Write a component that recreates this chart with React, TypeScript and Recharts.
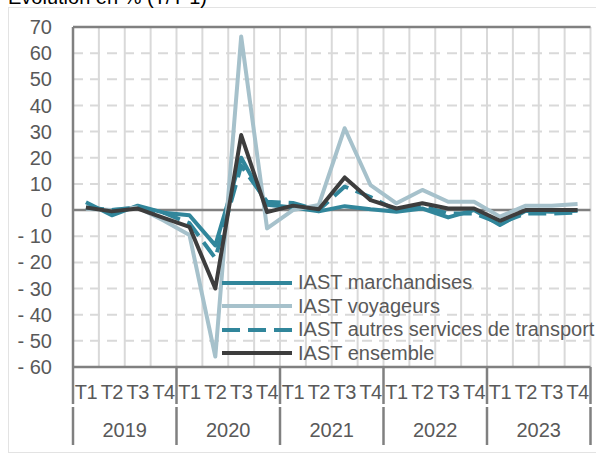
import React from 'react';
import { LineChart, Line, XAxis, YAxis, CartesianGrid, ReferenceLine, Legend } from 'recharts';

const quarterLabels = ['T1', 'T2', 'T3', 'T4'];
const years = ['2019', '2020', '2021', '2022', '2023'];
const yTicks = [-60, -50, -40, -30, -20, -10, 0, 10, 20, 30, 40, 50, 60, 70];
const Y_MIN = -60;
const Y_MAX = 70;

const marchandises = [3, -2, 1.7, -1, -2, -13.5, 20, 2, 1, -0.5, 1.5, 0.3, -0.6, 0.6, -2.8, 0, -5.7, -0.3, -0.6, -0.3];
const voyageurs = [0.5, 0, 1, -4, -9.5, -56, 66.4, -7, 0, 2, 31.3, 9.5, 2.6, 7.7, 3.2, 3.2, -2.5, 1.7, 1.7, 2.3];
const autres = [1, 0, 1, -1, -5, -18.4, 17, 3.2, 2.7, 0, 9, 5, -0.2, 1.5, -1.3, -1.3, -5, -1.3, -1.3, -1];
const ensemble = [1, -0.5, 0.6, -3, -6.4, -30, 28.7, -0.8, 1.7, 0.3, 12.5, 3.8, 0.6, 2.6, 0.6, 0.6, -4.1, 0, 0, 0];

const seriesNames = ['IAST marchandises', 'IAST voyageurs', 'IAST autres services de transport', 'IAST ensemble'];

const TEAL = '#31869b';
const LIGHT = '#a6c1cb';
const DARK = '#3d3d3d';
const TEXT = '#595959';
const AXIS = '#808080';
const GRID = '#d9d9d9';
const FONT = '"Liberation Sans", Arial, sans-serif';

const categories = years.flatMap((y) => quarterLabels.map((q) => `${y}-${q}`));
const data = categories.map((c, i) => ({
  cat: c,
  m: marchandises[i],
  v: voyageurs[i],
  a: autres[i],
  e: ensemble[i],
}));

const legendItems = [
  { name: seriesNames[0], color: TEAL, dash: undefined as string | undefined },
  { name: seriesNames[1], color: LIGHT, dash: undefined },
  { name: seriesNames[2], color: TEAL, dash: '18 8' },
  { name: seriesNames[3], color: DARK, dash: undefined },
];

const CHART_W = 596;
const CHART_H = 453;
const MARGIN = { top: 27, right: 5.5, left: 1, bottom: 6 };
const YAXIS_W = 72;
const PLOT_W = CHART_W - MARGIN.left - MARGIN.right - YAXIS_W;
const STEP = PLOT_W / categories.length;

const QuarterTick = (props: any) => {
  const { x, y, payload, index } = props;
  const [year, q] = String(payload.value).split('-');
  const sep = (sx: number) => (
    <g>
      <line x1={sx} x2={sx} y1={y} y2={y + 37} stroke={AXIS} strokeWidth={2.5} />
      <line x1={sx} x2={sx} y1={y + 40} y2={y + 78} stroke={AXIS} strokeWidth={2.5} />
    </g>
  );
  return (
    <g>
      <text x={x} y={y + 32} textAnchor="middle" fill={TEXT} fontSize={20} fontFamily={FONT} letterSpacing={-0.5}>
        {q}
      </text>
      {q === 'T1' && sep(x - STEP / 2)}
      {q === 'T1' && (
        <text x={x + 1.5 * STEP} y={y + 70} textAnchor="middle" fill={TEXT} fontSize={20} fontFamily={FONT}>
          {year}
        </text>
      )}
      {index === categories.length - 1 && sep(x + STEP / 2)}
    </g>
  );
};

const fmtY = (v: number) => (v < 0 ? `- ${-v}` : `${v}`);

const LegendContent = () => (
  <div style={{ fontFamily: FONT, fontSize: 20, color: TEXT }}>
    {legendItems.map((it) => (
      <div key={it.name} style={{ display: 'flex', alignItems: 'center', height: 23.5, whiteSpace: 'nowrap' }}>
        <svg width={77} height={10} style={{ display: 'block' }}>
          <line x1={1} x2={71} y1={5} y2={5} stroke={it.color} strokeWidth={4} strokeDasharray={it.dash} />
        </svg>
        <span>{it.name}</span>
      </div>
    ))}
  </div>
);

export default function App() {
  return (
    <div style={{ position: 'absolute', left: 0, top: 0, width: CHART_W, height: CHART_H, overflow: 'hidden', background: '#fff' }}>
      <div style={{ position: 'absolute', left: 8, top: 7, width: 620, height: 444, border: '1px solid #e3e3e3' }} />
      <svg width={CHART_W} height={30} style={{ position: 'absolute', left: 0, top: 0 }}>
        <text x={8} y={4} fill="#000" fontSize={20} fontFamily={FONT}>Évolution en % (T/T-1)</text>
      </svg>
      <div style={{ position: 'absolute', left: 0, top: 0 }}>
        <LineChart width={CHART_W} height={CHART_H} data={data} margin={MARGIN}>
          <CartesianGrid
            horizontal={false}
            stroke={GRID}
            strokeWidth={2}
            verticalCoordinatesGenerator={({ offset }: any) =>
              Array.from({ length: categories.length + 1 }, (_, i) => offset.left + (i * offset.width) / categories.length)
            }
          />
          <CartesianGrid vertical={false} stroke={GRID} strokeWidth={2} strokeDasharray="10 7" />
          <CartesianGrid
            vertical={false}
            stroke={AXIS}
            strokeWidth={2.5}
            horizontalCoordinatesGenerator={({ offset }: any) => [
              offset.top + (offset.height * Y_MAX) / (Y_MAX - Y_MIN),
            ]}
          />
          <XAxis
            dataKey="cat"
            interval={0}
            height={80}
            padding={{ left: STEP / 2, right: STEP / 2 }}
            tickLine={false}
            tickSize={0}
            tickMargin={0}
            axisLine={{ stroke: AXIS, strokeWidth: 2.5 }}
            tick={<QuarterTick />}
          />
          <YAxis
            domain={[Y_MIN, Y_MAX]}
            ticks={yTicks}
            interval={0}
            width={YAXIS_W}
            tickLine={false}
            tickSize={0}
            tickMargin={21}
            tickFormatter={fmtY}
            axisLine={{ stroke: AXIS, strokeWidth: 2.5 }}
            tick={{ fill: TEXT, fontSize: 20, fontFamily: FONT }}
          />
          <YAxis
            yAxisId="right"
            orientation="right"
            domain={[Y_MIN, Y_MAX]}
            width={0}
            tick={false}
            tickLine={false}
            axisLine={{ stroke: AXIS, strokeWidth: 2.5 }}
          />
          <ReferenceLine y={Y_MAX} stroke={AXIS} strokeWidth={2.5} />
          <Line dataKey="m" name={seriesNames[0]} stroke={TEAL} strokeWidth={4} dot={false} isAnimationActive={false} strokeLinejoin="round" />
          <Line dataKey="v" name={seriesNames[1]} stroke={LIGHT} strokeWidth={4} dot={false} isAnimationActive={false} strokeLinejoin="round" />
          <Line dataKey="a" name={seriesNames[2]} stroke={TEAL} strokeWidth={4} strokeDasharray="18 8" dot={false} isAnimationActive={false} strokeLinejoin="round" />
          <Line dataKey="e" name={seriesNames[3]} stroke={DARK} strokeWidth={4} dot={false} isAnimationActive={false} strokeLinejoin="round" />
          <Legend
            layout="vertical"
            align="center"
            verticalAlign="middle"
            content={<LegendContent />}
            wrapperStyle={{ position: 'absolute', left: 221, top: 271, width: 380, height: 100 }}
          />
        </LineChart>
      </div>
    </div>
  );
}
